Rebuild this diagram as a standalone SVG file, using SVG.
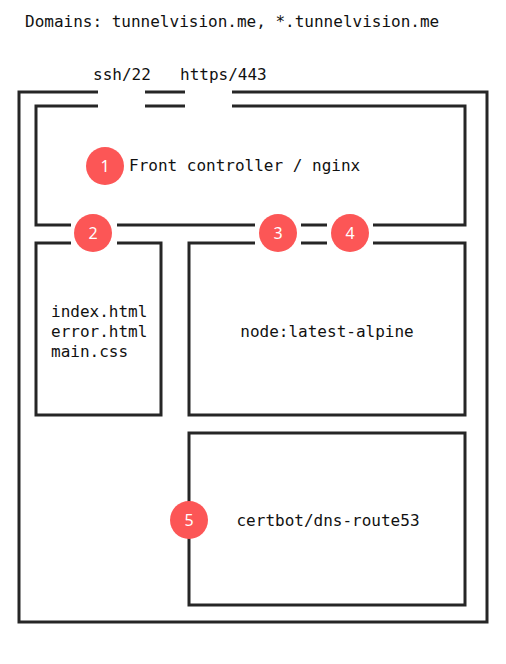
<svg xmlns="http://www.w3.org/2000/svg" width="506" height="664" viewBox="0 0 506 664">
<style>
.ln{fill:none;stroke:#262626;stroke-width:3;stroke-linecap:butt;stroke-linejoin:miter}
.t{font-family:"DejaVu Sans Mono","Liberation Mono",monospace;font-size:16px;fill:#111}
.b{fill:#fc5656}
.n{font-family:"Noto Sans","DejaVu Sans",sans-serif;font-size:16px;fill:#fff;text-anchor:middle}
</style>
<rect width="506" height="664" fill="#fff"/>
<text class="t" x="25" y="27">Domains: tunnelvision.me, *.tunnelvision.me</text>
<text class="t" x="93" y="80">ssh/22</text>
<text class="t" x="180" y="80">https/443</text>
<g id="host">
<path class="ln" d="M98,92 H19 V622 H487 V92 H232 M145,92 H185"/>
</g>
<g id="front">
<path class="ln" d="M98,106 H36 V225 H71 M117,225 H255 M301,225 H327 M373,225 H465 V106 H232 M145,106 H185"/>
<text class="t" x="129" y="171">Front controller / nginx</text>
</g>
<g id="static">
<path class="ln" d="M71,243 H36 V415 H161 V243 H117"/>
<text class="t" x="51" y="317">index.html</text>
<text class="t" x="51" y="337">error.html</text>
<text class="t" x="51" y="357">main.css</text>
</g>
<g id="node">
<path class="ln" d="M255,243 H189 V415 H465 V243 H373 M301,243 H327"/>
<text class="t" x="327" y="337" text-anchor="middle">node:latest-alpine</text>
</g>
<g id="certbot">
<rect class="ln" x="189" y="433" width="276" height="172"/>
<text class="t" x="328" y="526" text-anchor="middle">certbot/dns-route53</text>
</g>
<g id="connectors">
<g id="m1"><circle class="b" cx="105" cy="166" r="19"/><text class="n" x="105" y="172">1</text></g>
<g id="m2"><circle class="b" cx="93" cy="233" r="19"/><text class="n" x="93" y="239">2</text></g>
<g id="m3"><circle class="b" cx="278" cy="233" r="19"/><text class="n" x="278" y="239">3</text></g>
<g id="m4"><circle class="b" cx="350" cy="233" r="19"/><text class="n" x="350" y="239">4</text></g>
<g id="m5"><circle class="b" cx="189" cy="520" r="19"/><text class="n" x="189" y="526">5</text></g>
</g>
</svg>
